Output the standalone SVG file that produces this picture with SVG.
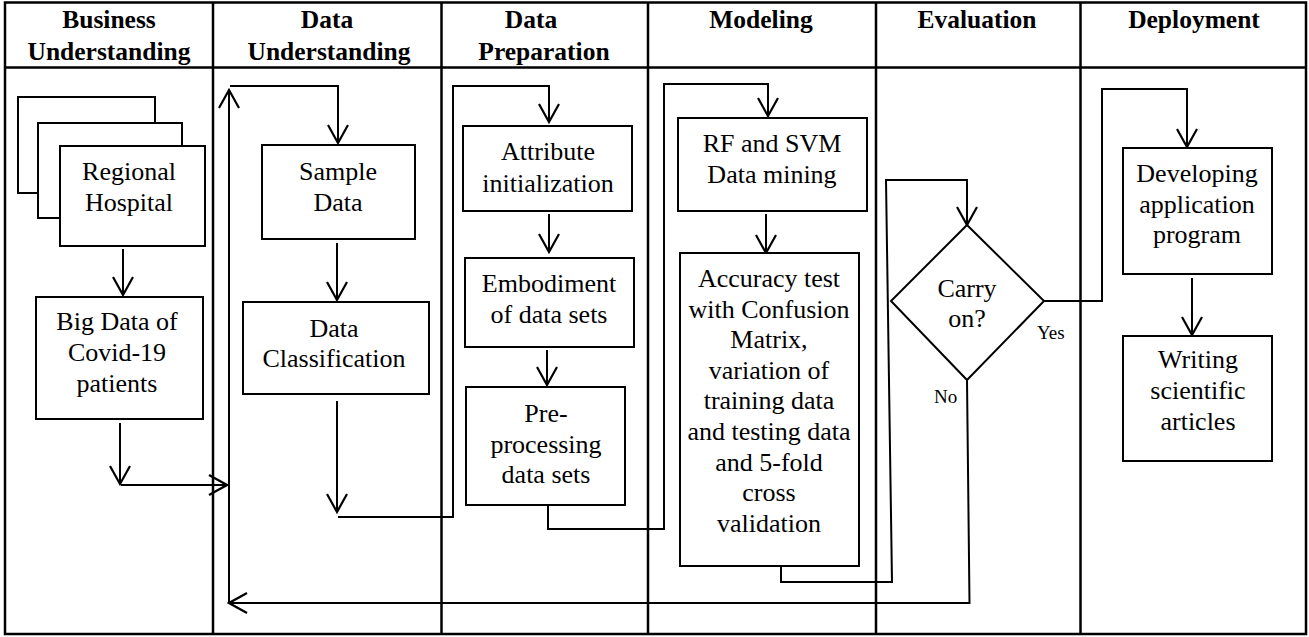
<svg xmlns="http://www.w3.org/2000/svg" width="1309" height="637" viewBox="0 0 1309 637">
<style>
.grid{fill:none;stroke:#000;stroke-width:2.5}
.box{fill:#fff;stroke:#000;stroke-width:2}
.hd{font-family:"Liberation Serif","Times New Roman",serif;font-weight:bold;font-size:25.5px;text-anchor:middle;fill:#000}
.tx{font-family:"Liberation Serif","Times New Roman",serif;font-size:26px;text-anchor:middle;fill:#000}
.lb{font-family:"Liberation Serif","Times New Roman",serif;font-size:19px;fill:#000}
.cn{fill:none;stroke:#000;stroke-width:2;marker-end:url(#arr)}
.ln{fill:none;stroke:#000;stroke-width:2}
</style>
<defs>
<marker id="arr" markerUnits="userSpaceOnUse" viewBox="0 0 22 24" markerWidth="22" markerHeight="24" refX="20" refY="12" orient="auto">
<path d="M2 2 L20 12 L2 22" fill="none" stroke="#000" stroke-width="2.2"/>
</marker>
</defs>
<rect width="1309" height="637" fill="#fff"/>
<g id="table">
<rect class="grid" x="5" y="2.5" width="1301" height="631.5"/>
<line class="grid" x1="5" y1="67.5" x2="1306" y2="67.5"/>
<line class="grid" x1="213" y1="2.5" x2="213" y2="634"/>
<line class="grid" x1="441.5" y1="2.5" x2="441.5" y2="634"/>
<line class="grid" x1="648" y1="2.5" x2="648" y2="634"/>
<line class="grid" x1="876" y1="2.5" x2="876" y2="634"/>
<line class="grid" x1="1080.5" y1="2.5" x2="1080.5" y2="634"/>
<text class="hd" x="109" y="28">Business</text>
<text class="hd" x="109" y="60">Understanding</text>
<text class="hd" x="327" y="28">Data</text>
<text class="hd" x="329" y="60">Understanding</text>
<text class="hd" x="531" y="28">Data</text>
<text class="hd" x="544" y="60">Preparation</text>
<text class="hd" x="761" y="28">Modeling</text>
<text class="hd" x="977" y="28">Evaluation</text>
<text class="hd" x="1194" y="28">Deployment</text>
</g>
<g id="connectors">
<path class="cn" d="M123 249 V295"/>
<path class="cn" d="M120 423 V484"/>
<path class="cn" d="M121 485 H227"/>
<path class="cn" d="M229 603 V90"/>
<path class="cn" d="M230 86 H338 V143"/>
<path class="cn" d="M337 243 V300"/>
<path class="cn" d="M337 401 V512"/>
<path class="cn" d="M338 517 H453 V86 H549 V122"/>
<path class="cn" d="M549 214 V252"/>
<path class="cn" d="M547 350 V385"/>
<path class="cn" d="M548 505 V529 H664 V84 H768 V116"/>
<path class="cn" d="M766 214 V253"/>
<path class="cn" d="M781 566 V582 H892 L886 180 H967 V225"/>
<path class="cn" d="M967 380 L969.5 603 H229"/>
<path class="cn" d="M1044 301 H1102 V89 H1187 V147"/>
<path class="cn" d="M1192 278 V335"/>
<text class="lb" x="1037" y="339">Yes</text>
<text class="lb" x="934" y="403">No</text>
</g>
<g id="regional-hospital">
<rect class="box" x="18" y="97" width="137" height="96"/>
<rect class="box" x="38" y="123" width="144" height="95"/>
<rect class="box" x="60" y="146" width="145" height="100"/>
<text class="tx" x="129" y="180">Regional</text>
<text class="tx" x="129" y="211">Hospital</text>
</g>
<g id="big-data">
<rect class="box" x="36" y="297" width="167" height="122"/>
<text class="tx" x="117" y="330">Big Data of</text>
<text class="tx" x="117" y="361">Covid-19</text>
<text class="tx" x="117" y="392">patients</text>
</g>
<g id="sample-data">
<rect class="box" x="262" y="145" width="153" height="94"/>
<text class="tx" x="338" y="180">Sample</text>
<text class="tx" x="338" y="211">Data</text>
</g>
<g id="data-classification">
<rect class="box" x="243" y="302" width="186" height="92"/>
<text class="tx" x="334" y="337">Data</text>
<text class="tx" x="334" y="367">Classification</text>
</g>
<g id="attribute-init">
<rect class="box" x="463" y="126" width="169" height="85"/>
<text class="tx" x="548" y="160">Attribute</text>
<text class="tx" x="548" y="192">initialization</text>
</g>
<g id="embodiment">
<rect class="box" x="465" y="258" width="169" height="89"/>
<text class="tx" x="549" y="292">Embodiment</text>
<text class="tx" x="549" y="323">of data sets</text>
</g>
<g id="pre-processing">
<rect class="box" x="466" y="387" width="159" height="118"/>
<text class="tx" x="546" y="422">Pre-</text>
<text class="tx" x="546" y="453">processing</text>
<text class="tx" x="546" y="483">data sets</text>
</g>
<g id="rf-svm">
<rect class="box" x="678" y="118" width="189" height="93"/>
<text class="tx" x="772" y="152">RF and SVM</text>
<text class="tx" x="772" y="183">Data mining</text>
</g>
<g id="accuracy-test">
<rect class="box" x="680" y="253" width="179" height="313"/>
<text class="tx" x="769" y="287">Accuracy test</text>
<text class="tx" x="769" y="317.5">with Confusion</text>
<text class="tx" x="769" y="348">Matrix,</text>
<text class="tx" x="769" y="378.5">variation of</text>
<text class="tx" x="769" y="409">training data</text>
<text class="tx" x="769" y="440">and testing data</text>
<text class="tx" x="769" y="470.5">and 5-fold</text>
<text class="tx" x="769" y="501">cross</text>
<text class="tx" x="769" y="532">validation</text>
</g>
<g id="carry-on">
<polygon class="box" points="967,225 1044,301 967,380 891,301"/>
<text class="tx" x="967" y="297">Carry</text>
<text class="tx" x="967" y="327">on?</text>
</g>
<g id="developing-app">
<rect class="box" x="1123" y="148" width="149" height="126"/>
<text class="tx" x="1197" y="182">Developing</text>
<text class="tx" x="1197" y="213">application</text>
<text class="tx" x="1197" y="243">program</text>
</g>
<g id="writing-articles">
<rect class="box" x="1123" y="336" width="149" height="125"/>
<text class="tx" x="1198" y="368">Writing</text>
<text class="tx" x="1198" y="399">scientific</text>
<text class="tx" x="1198" y="430">articles</text>
</g>
</svg>
